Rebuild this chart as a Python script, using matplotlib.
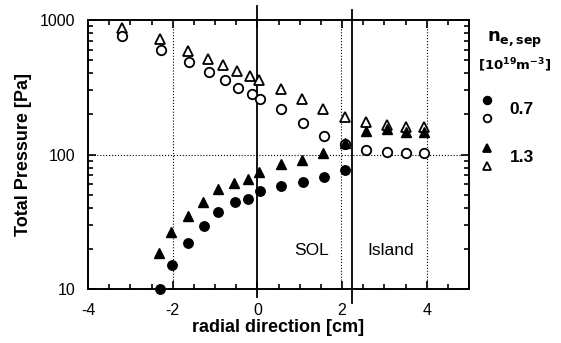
import matplotlib.pyplot as plt
from matplotlib.ticker import FixedLocator, MultipleLocator, LogLocator, NullFormatter
from matplotlib.lines import Line2D

plt.rcParams["font.family"] = ["Liberation Sans", "DejaVu Sans"]

# n_e,sep = 0.7 (circles): filled / open
x_fc = [-2.31, -2.01, -1.64, -1.27, -0.92, -0.54, -0.23, 0.07, 0.56, 1.07, 1.58, 2.07]
y_fc = [10.0, 15.0, 21.9, 29.6, 37.2, 44.2, 46.7, 53.6, 58.3, 62.8, 67.6, 76.8]
x_oc = [-3.21, -2.28, -1.62, -1.15, -0.77, -0.45, -0.12, 0.07, 0.56, 1.07, 1.58, 2.07,
        2.57, 3.07, 3.52, 3.93]
y_oc = [760, 598, 490, 408, 358, 312, 282, 257, 217, 172, 137, 120,
        108, 105, 102, 102]

# n_e,sep = 1.3 (triangles): filled / open
x_ft = [-2.32, -2.03, -1.64, -1.29, -0.93, -0.56, -0.23, 0.05, 0.56, 1.05, 1.55, 2.07,
        2.57, 3.07, 3.52, 3.93]
y_ft = [18.6, 26.7, 35.0, 44.6, 55.0, 61.7, 65.5, 74.5, 85, 91, 103, 121,
        150, 154, 148, 148]
x_ot = [-3.21, -2.29, -1.63, -1.17, -0.82, -0.49, -0.17, 0.05, 0.56, 1.05, 1.55, 2.06,
        2.57, 3.07, 3.52, 3.93]
y_ot = [867, 718, 591, 510, 462, 420, 383, 358, 305, 259, 217, 191,
        175, 167, 161, 159]

x_ticks = [-4, -2, 0, 2, 4]
y_ticks = [10, 100, 1000]

fig = plt.figure(figsize=(5.61, 3.43), dpi=100)
ax = fig.add_axes([0.157, 0.157, 0.679, 0.785])
ax.set_yscale("log")
ax.set_xlim(-4, 5)
ax.set_ylim(10, 1000)

# reference lines
ax.axhline(100, color="black", lw=0.8, ls=":")
for xv in [-2, 1.98, 4]:
    ax.axvline(xv, color="black", lw=0.8, ls=":")
ax.axvline(0, ymin=-0.03, ymax=1.05, color="black", lw=1.3, clip_on=False)
ax.axvline(2.24, ymin=-0.052, ymax=1.037, color="black", lw=1.3, clip_on=False)

ms = 6.8
ax.plot(x_ot, y_ot, ls="none", marker="^", ms=ms, mfc="white", mec="black", mew=1.3, clip_on=False)
ax.plot(x_oc, y_oc, ls="none", marker="o", ms=ms, mfc="white", mec="black", mew=1.3, clip_on=False)
ax.plot(x_ft, y_ft, ls="none", marker="^", ms=ms, color="black", clip_on=False)
ax.plot(x_fc, y_fc, ls="none", marker="o", ms=ms, color="black", clip_on=False)

ax.text(1.27, 19.5, "SOL", fontsize=12.5, ha="center", va="center")
ax.text(3.16, 19.5, "Island", fontsize=12.5, ha="center", va="center")

# ticks
ax.xaxis.set_major_locator(FixedLocator(x_ticks))
ax.xaxis.set_minor_locator(MultipleLocator(0.5))
ax.yaxis.set_major_locator(FixedLocator(y_ticks))
ax.yaxis.set_minor_locator(LogLocator(base=10, subs=range(2, 10)))
ax.yaxis.set_minor_formatter(NullFormatter())
ax.set_xticklabels([str(v) for v in x_ticks])
ax.set_yticklabels([str(v) for v in y_ticks])
ax.tick_params(which="both", direction="in", top=True, right=True, width=1.2, labelsize=11.5)
ax.tick_params(which="major", length=6)
ax.tick_params(which="minor", length=3.5)
ax.tick_params(axis="x", pad=10)
ax.tick_params(axis="y", pad=9)
for s in ax.spines.values():
    s.set_linewidth(1.4)

ax.set_xlabel("radial direction [cm]", fontsize=13, fontweight="bold", labelpad=1)
ax.set_ylabel("Total Pressure [Pa]", fontsize=13, fontweight="bold", labelpad=6)

# legend block on the right
fig.text(0.918, 0.885, r"$\mathbf{n_{e,sep}}$", fontsize=13, ha="center", va="center")
fig.text(0.918, 0.81, r"$\mathbf{[10^{19}m^{-3}]}$", fontsize=9.5, ha="center", va="center")
leg = [(0.868, 0.708, "o", "black"), (0.868, 0.656, "o", "white"),
       (0.868, 0.568, "^", "black"), (0.868, 0.516, "^", "white")]
for lx, ly, mk, fc in leg:
    fig.add_artist(Line2D([lx], [ly], ls="none", marker=mk, ms=5.5, mfc=fc, mec="black", mew=1.3))
fig.text(0.908, 0.682, "0.7", fontsize=12.5, fontweight="bold", va="center")
fig.text(0.908, 0.542, "1.3", fontsize=12.5, fontweight="bold", va="center")

fig.savefig("out.png", dpi=100)
